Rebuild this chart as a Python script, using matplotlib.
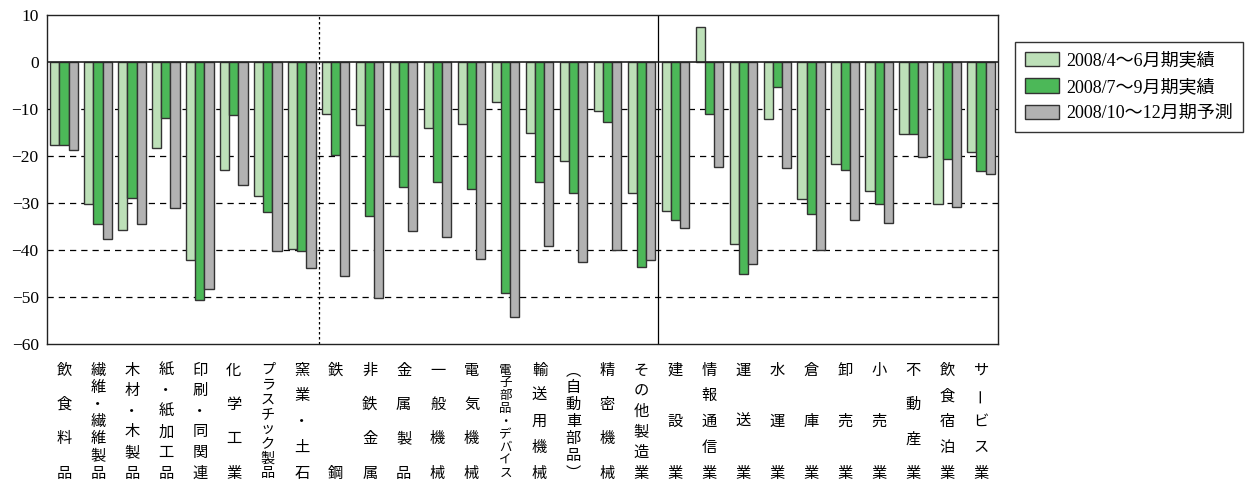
import numpy as np
import matplotlib
matplotlib.use('Agg')
import matplotlib.pyplot as plt

plt.rcParams['font.family'] = ['Liberation Serif', 'Noto Sans CJK JP']
plt.rcParams['axes.unicode_minus'] = True

# 業種
categories = ['飲食料品', '繊維・繊維製品', '木材・木製品', '紙・紙加工品', '印刷・同関連',
              '化学工業', 'プラスチック製品', '窯業・土石', '鉄鋼', '非鉄金属',
              '金属製品', '一般機械', '電気機械', '電子部品・デバイス', '輸送用機械',
              '︵自動車部品︶', '精密機械', 'その他製造業', '建設業', '情報通信業',
              '運送業', '水運業', '倉庫業', '卸売業', '小売業',
              '不動産業', '飲食宿泊業', 'サービス業']

series_names = ['2008/4～6月期実績', '2008/7～9月期実績', '2008/10～12月期予測']

q2 = [-17.7, -30.1, -35.8, -18.2, -42.2, -23.0, -28.4, -39.8, -11.1, -13.3,
      -19.9, -14.0, -13.1, -8.4, -15.0, -21.1, -10.5, -27.8, -31.7, 7.4,
      -38.6, -12.2, -29.2, -21.7, -27.4, -15.3, -30.1, -19.2]
q3 = [-17.7, -34.5, -28.9, -11.8, -50.7, -11.3, -31.8, -40.3, -19.7, -32.8,
      -26.6, -25.5, -27.0, -49.1, -25.6, -27.9, -12.7, -43.5, -33.6, -11.1,
      -45.0, -5.3, -32.3, -22.9, -30.3, -15.3, -20.6, -23.1]
q4 = [-18.7, -37.7, -34.5, -31.1, -48.2, -26.2, -40.3, -43.8, -45.6, -50.2,
      -36.0, -37.2, -42.0, -54.3, -39.1, -42.6, -39.9, -42.1, -35.4, -22.4,
      -42.9, -22.6, -39.9, -33.5, -34.3, -20.1, -30.9, -23.8]

colors = ['#bde0b8', '#4cb858', '#b2b2b2']

fig = plt.figure(figsize=(12.57, 4.86), dpi=100)
ax = fig.add_axes([0.0374, 0.292, 0.7566, 0.677])

x = np.arange(len(categories))
w = 0.27
for i, (vals, c, name) in enumerate(zip([q2, q3, q4], colors, series_names)):
    ax.bar(x + (i - 1) * w, vals, width=w, color=c, edgecolor='#333333',
           linewidth=1.0, label=name, zorder=3)

ax.set_xlim(-0.5, len(categories) - 0.5)
ax.set_ylim(-60, 10)
ax.set_yticks(range(-60, 11, 10))
ax.tick_params(axis='y', length=0, labelsize=12.5, pad=6)
ax.set_xticks([])

# 目盛線
for yv in range(-50, 0, 10):
    ax.axhline(yv, color='black', linestyle=(0, (5, 4)), linewidth=0.9, zorder=1)
ax.axhline(0, color='#222222', linewidth=1.2, zorder=4)

# 区切り線
ax.axvline(7.5, color='black', linestyle=(0, (2, 2)), linewidth=0.9, zorder=2)
ax.axvline(17.5, color='black', linewidth=0.9, zorder=2)

for s in ax.spines.values():
    s.set_color('#222222')
    s.set_linewidth(1.0)

# 縦書きラベル
trans = ax.get_xaxis_transform()
y_top, y_bot = -0.079, -0.392
for xi, lab in zip(x, categories):
    n = len(lab)
    ys = np.linspace(y_top, y_bot, n) if n > 1 else [y_top]
    fs = 11 if n <= 7 else (10.2 if n == 8 else 9)
    for ch, yy in zip(lab, ys):
        ax.text(xi, yy, ch, transform=trans, ha='center', va='center',
                fontsize=fs, family='Noto Sans CJK JP',
                rotation=90 if ch == 'ー' else 0)

leg = ax.legend(loc='upper left', bbox_to_anchor=(0.8075, 0.9136),
                bbox_transform=fig.transFigure, borderaxespad=0,
                fancybox=False, edgecolor='black', fontsize=13,
                handlelength=1.9, handleheight=0.85, labelspacing=0.5,
                borderpad=0.55, handletextpad=0.4)
leg.get_frame().set_linewidth(1.0)

fig.savefig('out.png', dpi=100)
